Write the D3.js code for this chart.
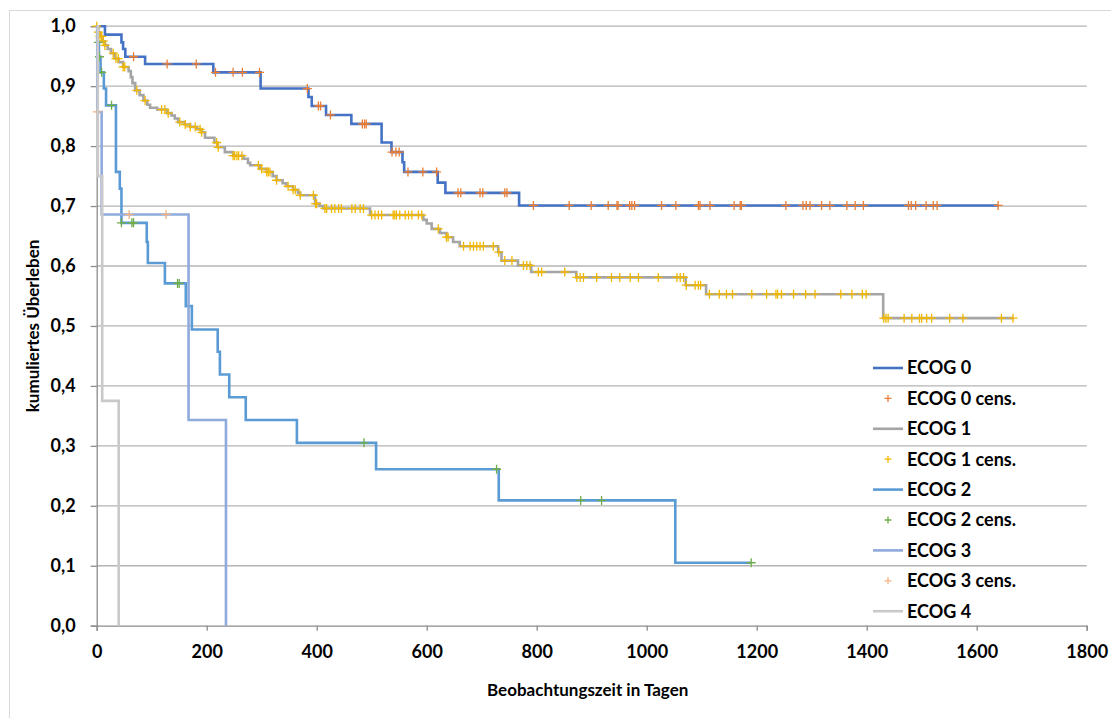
<!DOCTYPE html>
<html>
<head>
<meta charset="utf-8">
<script src="https://unpkg.com/d3@7.8.5/dist/d3.min.js"></script>
<style>
  body { margin: 0; background: #fff; }
  text { font-family: Lato, "Open Sans", sans-serif; font-weight: bold; fill: #000; }
</style>
</head>
<body>
<div id="chart"></div>
<script>
// ---- data ----
let xTicks = [0, 200, 400, 600, 800, 1000, 1200, 1400, 1600, 1800];
let yTicks = [0, 0.1, 0.2, 0.3, 0.4, 0.5, 0.6, 0.7, 0.8, 0.9, 1.0];

// ECOG 0
let ecog0Times = [0, 15, 45, 48, 52, 88, 212, 298, 385, 391, 417, 463, 518, 536, 556, 559, 620, 634, 768];
let ecog0Surv  = [1.0, 0.986, 0.973, 0.962, 0.949, 0.937, 0.923, 0.896, 0.882, 0.867, 0.852, 0.837, 0.806, 0.790, 0.773, 0.757, 0.739, 0.722, 0.701];
let ecog0End = 1639;
let ecog0Cens = [67, 128, 181, 216, 248, 265, 296, 383, 403, 407, 425, 483, 487, 490, 537, 544, 550, 566, 593, 618,
    657, 662, 697, 702, 742, 746, 794, 859, 899, 930, 946, 948, 969, 973, 978, 1027, 1053, 1094, 1097, 1115,
    1159, 1170, 1172, 1253, 1284, 1290, 1297, 1318, 1333, 1364, 1379, 1394, 1476, 1481, 1489, 1508, 1521, 1528, 1639];

// ECOG 1
let ecog1Times = [0, 3, 6, 10, 15, 20, 26, 33, 40, 48, 58, 62, 65, 70, 78, 85, 92, 97, 110, 128, 136, 142, 148, 160,
    170, 182, 191, 197, 214, 220, 233, 248, 267, 275, 279, 297, 309, 320, 327, 338, 345, 357, 366, 370, 397, 405,
    412, 497, 594, 600, 609, 624, 636, 648, 660, 730, 736, 766, 790, 872, 1071, 1108, 1430];
let ecog1Surv  = [1.0, 0.990, 0.983, 0.975, 0.968, 0.962, 0.955, 0.946, 0.940, 0.932, 0.925, 0.915, 0.905, 0.893, 0.885,
    0.876, 0.869, 0.864, 0.861, 0.855, 0.851, 0.846, 0.840, 0.836, 0.832, 0.828, 0.823, 0.814, 0.806, 0.798, 0.790,
    0.784, 0.779, 0.772, 0.768, 0.762, 0.757, 0.750, 0.743, 0.738, 0.733, 0.727, 0.722, 0.718, 0.704, 0.700, 0.696,
    0.685, 0.677, 0.671, 0.662, 0.655, 0.648, 0.640, 0.633, 0.623, 0.609, 0.601, 0.590, 0.581, 0.568, 0.553, 0.513];
let ecog1End = 1667;
let ecog1Cens = [0, 3, 6, 9, 12, 15, 30, 35, 39, 48, 51, 73, 88, 118, 124, 130, 151, 161, 170, 179, 188, 191, 218, 221,
    248, 251, 255, 258, 264, 294, 300, 309, 312, 315, 327, 348, 357, 361, 370, 394, 398, 400, 415, 418, 427, 433, 440,
    445, 464, 470, 479, 485, 500, 506, 512, 518, 539, 542, 545, 551, 561, 567, 573, 585, 591, 621, 636, 639, 667, 679,
    685, 691, 697, 703, 721, 731, 742, 755, 776, 782, 788, 803, 809, 851, 873, 879, 885, 909, 936, 951, 970, 985, 1021,
    1055, 1061, 1067, 1072, 1088, 1094, 1098, 1114, 1132, 1145, 1156, 1191, 1218, 1235, 1238, 1245, 1267, 1289, 1306,
    1353, 1373, 1392, 1399, 1431, 1435, 1439, 1468, 1482, 1496, 1500, 1509, 1518, 1551, 1575, 1645, 1666];

// ECOG 2
let ecog2Times = [0, 1, 4, 7, 13, 17, 35, 42, 45, 91, 93, 124, 162, 173, 220, 224, 241, 271, 364, 508, 731, 1052];
let ecog2Surv  = [1.0, 0.973, 0.949, 0.923, 0.896, 0.868, 0.757, 0.729, 0.672, 0.640, 0.605, 0.571, 0.533, 0.494,
    0.457, 0.419, 0.381, 0.343, 0.305, 0.261, 0.209, 0.105];
let ecog2End = 1190;
let ecog2Cens = [3, 5, 9, 27, 45, 64, 67, 147, 150, 486, 727, 880, 918, 1190];

// ECOG 3
let ecog3Times = [0, 1, 9, 167, 235];
let ecog3Surv  = [1.0, 0.857, 0.686, 0.343, 0.0];
let ecog3End = 235;
let ecog3Cens = [1, 59, 126];

// ECOG 4
let ecog4Times = [0, 2, 10, 40];
let ecog4Surv  = [1.0, 0.75, 0.375, 0.0];
let ecog4End = 40;

let seriesNames = ["ECOG 0", "ECOG 0 cens.", "ECOG 1", "ECOG 1 cens.", "ECOG 2", "ECOG 2 cens.", "ECOG 3", "ECOG 3 cens.", "ECOG 4"];
let seriesColors = ["#4472C4", "#ED7D31", "#A5A5A5", "#F2B800", "#5B9BD5", "#70AD47", "#8FAADC", "#F4B183", "#C9C9C9"];

// ---- chart ----
let width = 1111;
let height = 718;
let plotLeft = 96.7, plotRight = 1086.7, plotTop = 26.2, plotBottom = 625.7;

let svg = d3.select("#chart").append("svg")
    .attr("width", width)
    .attr("height", height);

// outer chart frame (only left & top edge fall inside the picture)
svg.append("rect")
    .attr("x", 9.5).attr("y", 10.5)
    .attr("width", 1200).attr("height", 800)
    .attr("fill", "none")
    .attr("stroke", "#D9D9D9");

let x = d3.scaleLinear().domain([0, 1800]).range([plotLeft, plotRight]);
let y = d3.scaleLinear().domain([0, 1]).range([plotBottom, plotTop]);

let locale = d3.formatLocale({decimal: ",", thousands: ".", grouping: [3], currency: ["", "€"]});
let yFormat = locale.format(".1f");

// gridlines
svg.append("g")
    .selectAll("line")
    .data(yTicks.filter(d => d > 0))
    .join("line")
        .attr("x1", plotLeft).attr("x2", plotRight)
        .attr("y1", d => y(d)).attr("y2", d => y(d))
        .attr("stroke", "#B4B4B4")
        .attr("stroke-width", 1.3);

// axes
let xAxis = svg.append("g")
    .attr("transform", `translate(0,${plotBottom})`)
    .call(d3.axisBottom(x).tickValues(xTicks).tickSize(5).tickPadding(11).tickFormat(d => d));
let yAxis = svg.append("g")
    .attr("transform", `translate(${plotLeft},0)`)
    .call(d3.axisLeft(y).tickValues(yTicks).tickSize(6).tickPadding(15).tickFormat(yFormat));

[xAxis, yAxis].forEach(ax => {
    ax.select(".domain").attr("stroke", "#8C8C8C").attr("stroke-width", 1.3);
    ax.selectAll(".tick line").attr("stroke", "#8C8C8C").attr("stroke-width", 1.3);
    ax.selectAll("text").attr("font-size", 18).attr("font-family", "Lato").attr("font-weight", "bold").attr("fill", "#000");
});
xAxis.selectAll("text").attr("dy", "0.9em");

// axis titles
svg.append("text")
    .attr("x", (plotLeft + plotRight) / 2 - 4)
    .attr("y", 696)
    .attr("text-anchor", "middle")
    .attr("font-size", 17)
    .text("Beobachtungszeit in Tagen");

svg.append("text")
    .attr("transform", `translate(39,${(plotTop + plotBottom) / 2}) rotate(-90)`)
    .attr("text-anchor", "middle")
    .attr("font-size", 17)
    .text("kumuliertes Überleben");

// step curves
function curvePoints(times, surv, end) {
    let pts = times.map((t, i) => [t, surv[i]]);
    pts.push([end, surv[surv.length - 1]]);
    return pts;
}
function survAt(times, surv, t) {
    let i = d3.bisectRight(times, t) - 1;
    return surv[Math.max(i, 0)];
}

let line = d3.line()
    .x(d => x(d[0]))
    .y(d => y(d[1]))
    .curve(d3.curveStepAfter);

let plusPath = "M-4.5,0H4.5M0,-4.5V4.5";

let groups = [
    {times: ecog0Times, surv: ecog0Surv, end: ecog0End, cens: ecog0Cens, line: 0, mark: 1},
    {times: ecog1Times, surv: ecog1Surv, end: ecog1End, cens: ecog1Cens, line: 2, mark: 3},
    {times: ecog2Times, surv: ecog2Surv, end: ecog2End, cens: ecog2Cens, line: 4, mark: 5},
    {times: ecog3Times, surv: ecog3Surv, end: ecog3End, cens: ecog3Cens, line: 6, mark: 7},
    {times: ecog4Times, surv: ecog4Surv, end: ecog4End, cens: null, line: 8, mark: null}
];

groups.forEach(g => {
    svg.append("path")
        .datum(curvePoints(g.times, g.surv, g.end))
        .attr("d", line)
        .attr("fill", "none")
        .attr("stroke", seriesColors[g.line])
        .attr("stroke-width", 2.6);

    if (g.cens) {
        svg.append("g")
            .selectAll("path")
            .data(g.cens)
            .join("path")
                .attr("transform", d => `translate(${x(d)},${y(survAt(g.times, g.surv, d))})`)
                .attr("d", plusPath)
                .attr("stroke", seriesColors[g.mark])
                .attr("stroke-width", 1.3);
    }
});

// legend
let legend = svg.append("g")
    .attr("transform", "translate(873,368)");

let items = legend.selectAll("g")
    .data(seriesNames)
    .join("g")
        .attr("transform", (d, i) => `translate(0,${i * 30.4})`);

items.filter(d => !d.includes("cens."))
    .append("line")
        .attr("x1", 0).attr("x2", 30)
        .attr("stroke", d => seriesColors[seriesNames.indexOf(d)])
        .attr("stroke-width", 2.6);

items.filter(d => d.includes("cens."))
    .append("path")
        .attr("transform", "translate(15,0)")
        .attr("d", "M-3.5,0H3.5M0,-3.5V3.5")
        .attr("stroke", d => seriesColors[seriesNames.indexOf(d)])
        .attr("stroke-width", 1.3);

items.append("text")
    .attr("x", 34)
    .attr("dy", "0.36em")
    .attr("font-size", 18)
    .text(d => d);
</script>
</body>
</html>
